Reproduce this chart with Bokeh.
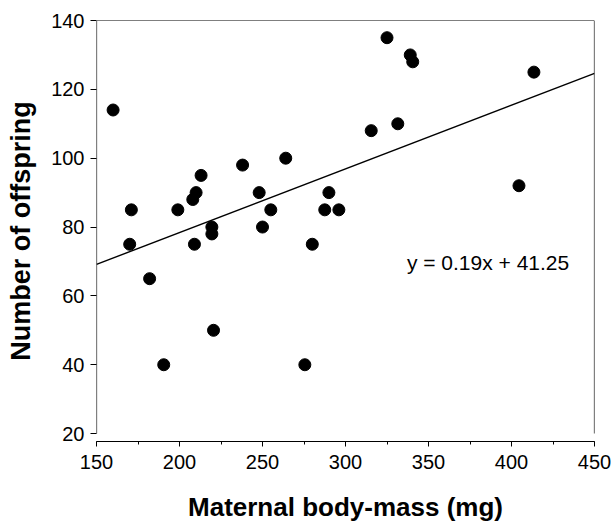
from bokeh.plotting import figure
from bokeh.models import Range1d, SingleIntervalTicker, ColumnDataSource
from bokeh.core.properties import value
from bokeh.embed import file_html
from bokeh.resources import INLINE

# ---- data ----
body_mass = [160, 170, 171, 182, 190.5, 199, 208, 210, 209, 213,
             219.5, 219.5, 220.5, 238, 248, 250, 255, 264, 275.5, 280,
             287.5, 290, 296, 315.5, 325, 331.5, 339, 340.5, 404.5, 413.5]
offspring = [114, 75, 85, 65, 40, 85, 88, 90, 75, 95,
             80, 78, 50, 98, 90, 80, 85, 100, 40, 75,
             85, 90, 85, 108, 135, 110, 130, 128, 92, 125]

SLOPE = 0.185
INTERCEPT = 41.4
EQ_TEXT = "y = 0.19x + 41.25"
EQ_X = 337
EQ_Y = 69.8

X_MIN, X_MAX = 150, 450
Y_MIN, Y_MAX = 20, 140
Y_LOW = 17.7

FONT = "Liberation Sans"

p = figure(width=614, height=524, output_backend="svg", toolbar_location=None,
           x_range=Range1d(X_MIN, X_MAX), y_range=Range1d(Y_LOW, Y_MAX),
           min_border_left=96, min_border_right=20, min_border_top=20,
           min_border_bottom=83)
p.outline_line_color = None
p.xgrid.visible = False
p.ygrid.visible = False
p.background_fill_color = "white"
p.border_fill_color = "white"

# frame borders (left, top, right)
p.segment(x0=[X_MIN, X_MIN, X_MAX], y0=[Y_MIN, Y_MAX, Y_MIN],
          x1=[X_MIN, X_MAX, X_MAX], y1=[Y_MAX, Y_MAX, Y_MAX],
          line_color="black", line_width=1.2)

# regression line
xs = [X_MIN, X_MAX]
ys = [SLOPE * v + INTERCEPT for v in xs]
p.line(xs, ys, line_color="black", line_width=1.4)

# points
src = ColumnDataSource(dict(x=body_mass, y=offspring))
p.scatter("x", "y", source=src, size=12, color="black")

p.text(x=[EQ_X], y=[EQ_Y], text=[EQ_TEXT], text_font=value(FONT),
       text_font_size="21px", text_baseline="alphabetic", text_align="left",
       text_color="black")

# axes
xa = p.xaxis[0]
xa.ticker = SingleIntervalTicker(interval=50, num_minor_ticks=2)
xa.axis_line_color = "black"
xa.axis_line_width = 1.2
xa.major_tick_in = 0
xa.major_tick_out = 5
xa.minor_tick_in = 0
xa.minor_tick_out = 3
xa.major_tick_line_color = "black"
xa.minor_tick_line_color = "black"
xa.major_label_text_font = FONT
xa.major_label_text_font_size = "20px"
xa.major_label_text_color = "black"
xa.major_label_standoff = 8
xa.axis_label = "Maternal body-mass (mg)"
xa.axis_label_text_font = FONT
xa.axis_label_text_font_style = "bold"
xa.axis_label_text_font_size = "26px"
xa.axis_label_text_color = "black"
xa.axis_label_standoff = 20

ya = p.yaxis[0]
ya.ticker = SingleIntervalTicker(interval=20, num_minor_ticks=0)
ya.axis_line_color = None
ya.major_tick_in = 0
ya.major_tick_out = 6
ya.major_tick_line_color = "black"
ya.minor_tick_line_color = None
ya.major_label_text_font = FONT
ya.major_label_text_font_size = "20px"
ya.major_label_text_color = "black"
ya.major_label_standoff = 6
ya.axis_label = "Number of offspring"
ya.axis_label_text_font = FONT
ya.axis_label_text_font_style = "bold"
ya.axis_label_text_font_size = "27px"
ya.axis_label_text_color = "black"
ya.axis_label_standoff = 12

open("out.html", "w").write(file_html(p, INLINE))
